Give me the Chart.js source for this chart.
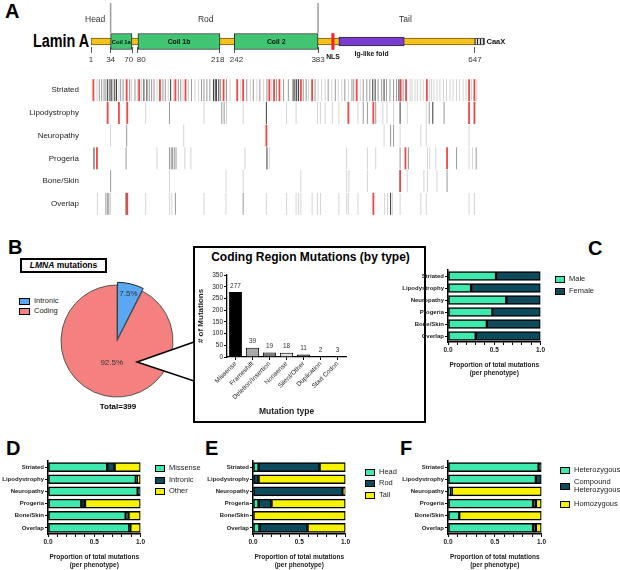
<!DOCTYPE html>
<html>
<head>
<meta charset="utf-8">
<script src="https://cdn.jsdelivr.net/npm/chart.js@4.4.0/dist/chart.umd.min.js"></script>
<style>
body { margin: 0; background: #fff; font-family: 'Liberation Sans', Arial, sans-serif; }
#page { position: relative; width: 620px; height: 570px; overflow: hidden; }
canvas { position: absolute; }
.abs { position: absolute; white-space: nowrap; }
.letter { position: absolute; font-weight: bold; font-size: 20px; color: #000; line-height: 20px; }
.leg { position: absolute; display: flex; align-items: center; font-size: 7.5px; color: #222; line-height: 8px; }
.leg .sw { width: 8px; height: 5px; border: 1.5px solid #000; margin-right: 4px; flex: none; }
</style>
</head>
<body>
<div id="page">
  <div class="letter" style="left:5px;top:1px">A</div>
  <div class="letter" style="left:8px;top:237px">B</div>
  <div class="letter" style="left:588px;top:238px">C</div>
  <div class="letter" style="left:6px;top:438px">D</div>
  <div class="letter" style="left:205px;top:438px">E</div>
  <div class="letter" style="left:400px;top:438px">F</div>

  <div class="abs" style="left:33px;top:31px;font-weight:bold;font-size:18px;transform:scaleX(0.8);transform-origin:left top">Lamin A</div>
  <canvas id="lamin" width="620" height="72" style="left:0;top:0"></canvas>
  <canvas id="tracks" width="620" height="162" style="left:0;top:66px"></canvas>

  <div class="abs" style="left:20px;top:258px;width:83px;height:11px;border:2px solid #000;font-size:8.5px;font-weight:bold;text-align:center;line-height:11px"><i>LMNA</i> mutations</div>
  <div id="pieLegend"></div>
  <canvas id="pie" width="130" height="130" style="left:52px;top:276px"></canvas>
  <div id="total" class="abs" style="left:78px;top:402px;width:80px;text-align:center;font-size:8px;font-weight:bold"></div>

  <div class="abs" style="left:193px;top:246px;width:229px;height:173px;border:2px solid #000"></div>
  <div class="abs" style="left:196px;top:250px;width:229px;text-align:center;font-size:12px;font-weight:bold">Coding Region Mutations (by type)</div>
  <canvas id="types" width="226" height="158" style="left:196px;top:262px"></canvas>
  <svg class="abs" style="left:0;top:0" width="620" height="570">
    <polygon points="194,342 137,362 194,381" fill="#fff" stroke="#000" stroke-width="1.5"/>
  </svg>

  <canvas id="sexChart" width="146" height="113" style="left:400px;top:264px"></canvas>
  <canvas id="typeChart" width="146" height="114" style="left:0;top:455px"></canvas>
  <canvas id="regionChart" width="146" height="114" style="left:205px;top:455px"></canvas>
  <canvas id="zygChart" width="147" height="114" style="left:400px;top:455px"></canvas>
  <div id="legends"></div>
</div>

<script>
// ---- Panel A : Lamin A domain map (residue numbers) ----
const domainTicks = [1, 34, 70, 80, 218, 242, 383, 647];
const coilNames = ['Coil 1a', 'Coil 1b', 'Coil 2'];
const coilRanges = [[34, 70], [80, 218], [242, 383]];
const proteinRange = [1, 647];
const igFold = [418, 528];
const nlsRange = [406, 410];
const caaxRange = [647, 663];
const regionNames = ['Head', 'Rod', 'Tail'];
const regionCentres = [8, 194, 530];
const regionBreaks = [34, 383];

// mutation tracks: [residue, shade]  shade 0 light, 1 mid, 2 dark, 3 red
const tracks = ['Striated', 'Lipodystrophy', 'Neuropathy', 'Progeria', 'Bone/Skin', 'Overlap'];
const striatedMut = [[5,3],[11,0],[15,1],[19,1],[23,1],[26,1],[29,2],[31,0],[33,2],[36,2],[39,0],[41,2],[44,2],[48,0],[51,1],[55,1],[61,3],[66,1],[69,0],[75,1],[79,0],[82,3],[86,0],[90,2],[95,2],[99,1],[103,1],[107,1],[112,0],[117,3],[122,1],[126,1],[131,0],[135,2],[140,0],[143,3],[148,1],[152,1],[156,0],[160,3],[165,0],[170,1],[176,0],[182,0],[187,1],[191,1],[196,1],[201,1],[207,2],[210,2],[212,2],[216,2],[219,1],[224,3],[229,1],[235,0],[247,3],[253,0],[257,3],[263,1],[269,0],[274,1],[280,0],[285,1],[291,0],[297,1],[301,3],[305,0],[309,3],[313,1],[318,3],[325,1],[333,1],[341,2],[344,2],[347,2],[350,2],[354,3],[358,1],[363,1],[367,0],[373,3],[378,1],[383,0],[389,0],[395,0],[400,1],[406,0],[412,1],[417,0],[423,0],[428,1],[434,0],[440,1],[443,1],[448,3],[454,0],[459,1],[465,1],[470,1],[475,2],[479,2],[484,1],[490,1],[494,2],[498,1],[504,1],[510,1],[515,1],[519,2],[522,3],[526,1],[531,3],[538,0],[541,0],[546,0],[550,0],[555,0],[560,0],[566,3],[571,0],[574,0],[578,0],[583,0],[588,0],[594,0],[599,0],[605,0],[610,0],[616,0],[621,0],[627,0],[632,0],[637,3],[641,0],[646,3],[650,0]];
const lipoMut = [[29,3],[48,3],[62,3],[93,0],[133,1],[191,0],[221,1],[225,1],[229,0],[257,0],[296,2],[330,0],[346,0],[382,0],[387,0],[395,0],[407,0],[418,0],[434,3],[450,0],[459,1],[466,1],[476,3],[480,1],[492,0],[499,0],[510,0],[521,2],[533,0],[565,0],[570,1],[576,2],[595,1],[637,3],[646,3]];
const neuroMut = [[34,0],[61,1],[157,0],[296,3],[494,0],[505,1],[510,1],[521,0],[556,0],[565,0],[637,0]];
const progeriaMut = [[6,2],[11,3],[60,1],[112,0],[133,1],[136,1],[138,1],[141,1],[144,1],[159,0],[169,0],[260,0],[297,2],[301,0],[431,0],[466,0],[480,0],[521,1],[530,3],[535,1],[567,0],[571,0],[581,0],[600,3],[616,1],[637,0],[643,0],[649,1]];
const boneSkinMut = [[34,1],[133,0],[228,0],[257,0],[354,0],[431,0],[435,0],[466,0],[521,3],[533,0],[561,0],[567,0],[583,0],[600,1]];
const overlapMut = [[12,0],[26,1],[29,1],[31,1],[34,0],[60,2],[62,3],[93,0],[133,0],[137,0],[143,1],[191,0],[228,0],[257,1],[296,0],[330,0],[346,0],[350,0],[354,0],[373,0],[382,0],[387,0],[418,0],[431,0],[434,0],[450,0],[476,3],[495,0],[500,0],[505,2],[508,0],[521,0],[556,0],[565,0],[637,0],[646,0]];

// ---- Panel B ----
const pieLabels = ['Intronic', 'Coding'];
const pieValues = [30, 369];
const typeLabels = ['Missense', 'Frameshift', 'Deletion/Insertion', 'Nonsense', 'Silent/Other', 'Duplication', 'Start Codon'];
const typeCounts = [277, 39, 19, 18, 11, 2, 3];

// ---- Panels C-F (proportion per phenotype) ----
const phenotypes = ['Striated', 'Lipodystrophy', 'Neuropathy', 'Progeria', 'Bone/Skin', 'Overlap'];
const sexLabels = ['Male', 'Female'];
const sexMale = [0.52, 0.25, 0.63, 0.48, 0.42, 0.30];
const sexFemale = [0.48, 0.75, 0.37, 0.52, 0.58, 0.70];
const kindLabels = ['Missense', 'Intronic', 'Other'];
const kindMissense = [0.64, 0.95, 0.97, 0.36, 0.84, 0.88];
const kindIntronic = [0.08, 0.01, 0.03, 0.04, 0.03, 0.01];
const kindOther = [0.28, 0.04, 0.00, 0.60, 0.13, 0.11];
const regionLabels = ['Head', 'Rod', 'Tail'];
const regionHead = [0.06, 0.00, 0.00, 0.06, 0.00, 0.07];
const regionRod = [0.66, 0.06, 0.97, 0.14, 0.00, 0.52];
const regionTail = [0.28, 0.94, 0.03, 0.80, 1.00, 0.41];
const zygLabels = ['Heterozygous', 'Compound Heterozygous', 'Homozygous'];
const zygHet = [0.97, 0.94, 0.03, 0.91, 0.12, 0.91];
const zygCompound = [0.03, 0.06, 0.01, 0.03, 0.00, 0.03];
const zygHom = [0.00, 0.00, 0.96, 0.06, 0.88, 0.06];

const FONT = "'Liberation Sans', Arial, sans-serif";
const GREEN = '#3fe8ac', TEAL = '#0c4a5c', YELLOW = '#f6f200';
const shadeColors = ['#d4d4d4', '#9a9a9a', '#3a3a3a', 'rgba(240,50,50,0.9)'];
const noUi = { legend: { display: false }, tooltip: { enabled: false } };

// stripes for the CaaX box
function stripes() {
    const c = document.createElement('canvas');
    c.width = 3; c.height = 8;
    const g = c.getContext('2d');
    g.fillStyle = '#ddd'; g.fillRect(0, 0, 3, 8);
    g.fillStyle = '#222'; g.fillRect(0, 0, 1, 8);
    return g.createPattern(c, 'repeat');
}

// text + separators on the domain map
const laminText = {
    id: 'laminText',
    afterDatasetsDraw(chart) {
        const { ctx } = chart;
        const x = chart.scales.x;
        const px = v => x.getPixelForValue(v);
        ctx.save();
        ctx.strokeStyle = '#9c9c9c';
        ctx.lineWidth = 1.5;
        regionBreaks.forEach(r => {
            ctx.beginPath(); ctx.moveTo(px(r), 3); ctx.lineTo(px(r), 33); ctx.stroke();
        });
        ctx.textAlign = 'center';
        ctx.textBaseline = 'middle';
        ctx.fillStyle = '#333';
        ctx.font = '8.5px ' + FONT;
        regionNames.forEach((n, i) => ctx.fillText(n, px(regionCentres[i]), 20));
        ctx.fillStyle = '#111';
        coilNames.forEach((n, i) => {
            ctx.font = 'bold ' + (i === 0 ? 5.8 : 6.8) + 'px ' + FONT;
            ctx.fillText(n, px((coilRanges[i][0] + coilRanges[i][1]) / 2), 42);
        });
        ctx.font = 'bold 6.8px ' + FONT;
        ctx.fillText('Ig-like fold', px((igFold[0] + igFold[1]) / 2), 54);
        ctx.fillText('NLS', px((nlsRange[0] + nlsRange[1]) / 2), 57);
        ctx.textAlign = 'left';
        ctx.font = 'bold 7.5px ' + FONT;
        ctx.fillText('CaaX', px(caaxRange[1]) + 2, 41.5);
        ctx.restore();
    }
};

const domainBar = (range, color, thick, border) => ({
    data: [].concat(range[0] instanceof Array ? range : [range]).map(r => ({ x: r, y: 0 })),
    backgroundColor: color, borderColor: border || '#333', borderWidth: border === 'none' ? 0 : 1,
    borderSkipped: false, barThickness: thick, grouped: false, clip: false
});

new Chart(document.getElementById('lamin'), {
    type: 'bar',
    data: {
        datasets: [
            domainBar(nlsRange, '#ff1e1e', 16, 'none'),
            domainBar(coilRanges, '#40c572', 16, '#2b2b2b'),
            domainBar(igFold, '#7a3ccf', 9, '#2b2b2b'),
            domainBar(caaxRange, stripes(), 7, '#444'),
            domainBar(proteinRange, '#f6c21c', 7, '#6a5a20')
        ]
    },
    options: {
        indexAxis: 'y', animation: false, responsive: false, events: [],
        layout: { padding: { left: 91, right: 113.5, top: 36, bottom: 0 } },
        scales: {
            x: {
                type: 'linear', min: 1, max: 700,
                border: { display: false },
                grid: { drawOnChartArea: false, drawTicks: true, tickLength: 6, color: '#555' },
                afterBuildTicks: s => { s.ticks = domainTicks.map(v => ({ value: v })); },
                ticks: {
                    autoSkip: false, maxRotation: 0, padding: 2, color: '#333',
                    font: { size: 8, family: FONT },
                    callback: v => v === 70 ? '70   ' : v === 80 ? '   80' : v === 218 ? '218  ' : v === 242 ? '  242' : String(v)
                },
                afterFit: s => { s.height = 25; }
            },
            y: { type: 'linear', min: -1, max: 1, display: false }
        },
        plugins: noUi
    },
    plugins: [laminText]
});

const trackMuts = [striatedMut, lipoMut, neuroMut, progeriaMut, boneSkinMut, overlapMut];
new Chart(document.getElementById('tracks'), {
    type: 'scatter',
    data: {
        datasets: trackMuts.map((muts, i) => ({
            data: muts.map(m => ({ x: m[0], y: tracks[i] })),
            pointStyle: 'line', pointRotation: 90, pointRadius: 11,
            pointBorderColor: muts.map(m => shadeColors[m[1]]),
            pointBorderWidth: muts.map(m => m[1] === 3 ? 1.8 : 1),
            clip: false
        }))
    },
    options: {
        animation: false, responsive: false, events: [],
        layout: { padding: { left: 0, right: 113.5, top: 3, bottom: 2 } },
        scales: {
            x: { type: 'linear', min: 1, max: 700, display: false },
            y: {
                type: 'category', labels: tracks, offset: true,
                grid: { display: false }, border: { display: false },
                ticks: { color: '#222', padding: 4, font: { size: 8, family: FONT } },
                afterFit: s => { s.width = 91; }
            }
        },
        plugins: noUi
    }
});

// ---- pie ----
const pieTotal = pieValues.reduce((a, b) => a + b, 0);
document.getElementById('total').textContent = 'Total=' + pieTotal;
const pieColors = ['#5aa8f2', '#f48080'];
document.getElementById('pieLegend').innerHTML = pieLabels.map((l, i) =>
    `<div class="leg" style="left:19px;top:${297 + i * 10}px"><span class="sw" style="background:${pieColors[i]};border-width:1px;width:9px;height:5px"></span>${l}</div>`).join('');

const pieText = {
    id: 'pieText',
    afterDatasetsDraw(chart) {
        const { ctx } = chart;
        ctx.save();
        ctx.font = '8px ' + FONT;
        ctx.fillStyle = '#333';
        ctx.textAlign = 'center';
        ctx.textBaseline = 'middle';
        chart.getDatasetMeta(0).data.forEach((arc, i) => {
            const p = arc.getProps(['x', 'y', 'startAngle', 'endAngle', 'outerRadius']);
            const mid = (p.startAngle + p.endAngle) / 2;
            const r = p.outerRadius * (i === 0 ? 0.75 : 0.4) + (i === 0 ? 7 : 0);
            ctx.fillText((pieValues[i] / pieTotal * 100).toFixed(1) + '%', p.x + Math.cos(mid) * r, p.y + Math.sin(mid) * r);
        });
        ctx.restore();
    }
};

new Chart(document.getElementById('pie'), {
    type: 'pie',
    data: {
        labels: pieLabels,
        datasets: [{ data: pieValues, backgroundColor: pieColors, borderColor: ['#222', '#555'], borderWidth: 1, offset: [7, 0] }]
    },
    options: { animation: false, responsive: false, events: [], radius: 56, plugins: noUi },
    plugins: [pieText]
});

// ---- coding region mutation types ----
const barValues = {
    id: 'barValues',
    afterDatasetsDraw(chart) {
        const { ctx } = chart;
        ctx.save();
        ctx.font = '6.5px ' + FONT;
        ctx.fillStyle = '#333';
        ctx.textAlign = 'center';
        ctx.textBaseline = 'bottom';
        chart.getDatasetMeta(0).data.forEach((bar, i) => ctx.fillText(typeCounts[i], bar.x, bar.y - 3));
        ctx.restore();
    }
};

new Chart(document.getElementById('types'), {
    type: 'bar',
    data: {
        labels: typeLabels,
        datasets: [{
            data: typeCounts,
            backgroundColor: ['#000', '#a9a9a9', '#7c7c7c', '#dedede', '#404040', '#777', '#777'],
            borderColor: '#000', borderWidth: 1, barPercentage: 0.78, categoryPercentage: 1
        }]
    },
    options: {
        animation: false, responsive: false, events: [],
        layout: { padding: { top: 13, right: 76, left: 0, bottom: 0 } },
        scales: {
            x: {
                border: { color: '#000', width: 1.3 },
                grid: { drawOnChartArea: false, offset: false, tickLength: 3, color: '#000' },
                ticks: { autoSkip: false, minRotation: 45, maxRotation: 45, padding: 0, color: '#222', font: { size: 6.5, family: FONT } },
                title: { display: true, text: 'Mutation type', color: '#222', font: { size: 8.5, weight: 'bold', family: FONT }, padding: { top: 0, bottom: 3 } },
                afterFit: s => { s.height = 63; }
            },
            y: {
                min: 0, max: 350,
                border: { color: '#000', width: 1.3 },
                grid: { drawOnChartArea: false, tickLength: 3, color: '#000' },
                ticks: { stepSize: 50, padding: 1, color: '#222', font: { size: 6.5, family: FONT } },
                title: { display: true, text: '# of Mutations', color: '#222', font: { size: 8, weight: 'bold', family: FONT }, padding: { top: 0, bottom: 2 } },
                afterFit: s => { s.width = 31; }
            }
        },
        plugins: noUi
    },
    plugins: [barValues]
});

// ---- stacked proportion charts ----
function stackChart(id, series, colors) {
    return new Chart(document.getElementById(id), {
        type: 'bar',
        data: {
            labels: phenotypes,
            datasets: series.map((s, i) => ({
                data: s.map(v => v || null), backgroundColor: colors[i],
                borderColor: '#000', borderWidth: 1.5, borderSkipped: false, barThickness: 9
            }))
        },
        options: {
            indexAxis: 'y', animation: false, responsive: false, events: [],
            layout: { padding: { top: 6, right: 3, left: 0, bottom: 0 } },
            scales: {
                x: {
                    stacked: true, min: 0, max: 1,
                    border: { color: '#000', width: 1.5 },
                    grid: { drawOnChartArea: false, tickLength: 3, color: '#000' },
                    ticks: {
                        stepSize: 0.1, autoSkip: false, maxRotation: 0, padding: 1, color: '#222',
                        font: { size: 6.5, weight: 'bold', family: FONT },
                        callback: v => [0, 0.5, 1].some(m => Math.abs(v - m) < 1e-6) ? v.toFixed(1) : ''
                    },
                    title: {
                        display: true, text: ['Proportion of total mutations', '(per phenotype)'], color: '#222',
                        font: { size: 6.5, weight: 'bold', family: FONT, lineHeight: 1.25 }, padding: { top: 5, bottom: 0 }
                    },
                    afterFit: s => { s.height = 35; }
                },
                y: {
                    stacked: true,
                    border: { color: '#000', width: 1.5 },
                    grid: { drawOnChartArea: false, offset: false, tickLength: 3, color: '#000' },
                    ticks: { autoSkip: false, padding: 1, color: '#222', font: { size: 6, weight: 'bold', family: FONT } },
                    afterFit: s => { s.width = 48; }
                }
            },
            plugins: noUi
        }
    });
}

stackChart('sexChart', [sexMale, sexFemale], [GREEN, TEAL]);
stackChart('typeChart', [kindMissense, kindIntronic, kindOther], [GREEN, TEAL, YELLOW]);
stackChart('regionChart', [regionHead, regionRod, regionTail], [GREEN, TEAL, YELLOW]);
stackChart('zygChart', [zygHet, zygCompound, zygHom], [GREEN, TEAL, YELLOW]);

// legends
function legend(left, tops, labels, colors) {
    return labels.map((l, i) =>
        `<div class="leg" style="left:${left}px;top:${tops[i]}px"><span class="sw" style="background:${colors[i]}"></span><span style="white-space:normal;max-width:48px">${l}</span></div>`).join('');
}
document.getElementById('legends').innerHTML =
    legend(555, [275, 287], sexLabels, [GREEN, TEAL]) +
    legend(155, [464, 476, 487], kindLabels, [GREEN, TEAL, YELLOW]) +
    legend(365, [468, 479, 491], regionLabels, [GREEN, TEAL, YELLOW]) +
    legend(560, [466, 478, 500], zygLabels, [GREEN, TEAL, YELLOW]);
</script>
</body>
</html>
